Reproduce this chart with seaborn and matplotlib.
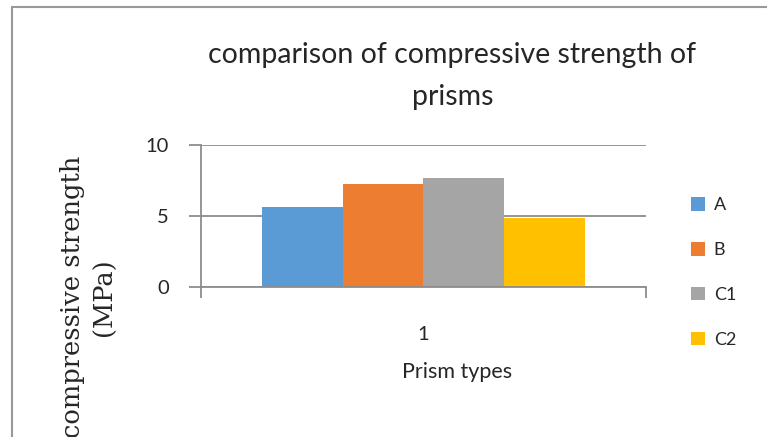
import matplotlib
matplotlib.use("Agg")
import matplotlib.pyplot as plt
from matplotlib.patches import Rectangle
from matplotlib.lines import Line2D
import seaborn as sns
import pandas as pd

# Data
prism_types = ["A", "B", "C1", "C2"]
strength_mpa = [5.6, 7.25, 7.7, 4.85]
group_labels = ["1"]
colors = ["#5B9BD5", "#ED7D31", "#A5A5A5", "#FFC000"]

df = pd.DataFrame({
    "group": group_labels * len(prism_types),
    "type": prism_types,
    "strength": strength_mpa,
})

sns.set_style("white")
sans = ["Lato", "DejaVu Sans"]
serif = ["DejaVu Serif"]

fig = plt.figure(figsize=(7.67, 4.37), dpi=100)
ax = fig.add_axes([0.262, 0.3432, 0.58, 0.325])

sns.barplot(data=df, x="group", y="strength", hue="type", palette=colors,
            width=0.725, gap=0, dodge=True, saturation=1, ax=ax,
            legend=False, edgecolor="none", linewidth=0, errorbar=None)

grid_c = "#8c8c8c"
txt_c = "#262626"
ax.set_xlim(-0.5, 0.5)
ax.set_ylim(0, 10)
ax.set_yticks([0, 5, 10])
ax.set_yticklabels(["0", "5", "10"], fontsize=14.5, family=sans, color=txt_c)
ax.yaxis.grid(True, color=grid_c, linewidth=1.3)
ax.set_axisbelow(True)
ax.tick_params(axis="y", length=9, width=1.3, color=grid_c, pad=14, direction="out")
ax.yaxis.set_ticks_position("left")

# x axis: boundary ticks as majors, category label as a minor tick
ax.set_xticks([-0.5, 0.5])
ax.set_xticklabels(["", ""])
ax.set_xticks([0], minor=True)
ax.set_xticklabels(group_labels, minor=True, fontsize=14.5, family=sans, color=txt_c)
ax.tick_params(axis="x", which="major", length=8, width=1.3, color=grid_c, direction="out")
ax.tick_params(axis="x", which="minor", length=0, pad=28)
ax.xaxis.set_ticks_position("bottom")

for s in ["top", "right"]:
    ax.spines[s].set_visible(False)
for s in ["left", "bottom"]:
    ax.spines[s].set_color(grid_c)
    ax.spines[s].set_linewidth(1.3)

ax.set_xlabel("Prism types", fontsize=15.5, family=sans, color=txt_c)
ax.xaxis.set_label_coords(0.575, -0.53)
ax.set_ylabel("")

fig.text(0.59, 0.826, "comparison of compressive strength of\nprisms", ha="center",
         va="center", fontsize=20.5, family=sans, color=txt_c, linespacing=1.75)

fig.text(0.115, 0.32, "compressive strength\n(MPa)", rotation=90, ha="center",
         va="center", fontsize=18.5, family=serif, color=txt_c, linespacing=1.35)

# Legend
handles = [Rectangle((0, 0), 1, 1, facecolor=c, edgecolor="none") for c in colors]
fig.legend(handles, prism_types, loc="center left", bbox_to_anchor=(0.88, 0.376),
           frameon=False, handlelength=0.75, handleheight=0.75,
           handletextpad=0.5, labelspacing=1.6, prop={"family": sans, "size": 13})

# Chart frame
fig.add_artist(Line2D([0.0157, 0.0157], [0.0, 0.984], color="#999999", linewidth=1.5,
                      transform=fig.transFigure))
fig.add_artist(Line2D([0.0157, 1.0], [0.984, 0.984], color="#999999", linewidth=1.5,
                      transform=fig.transFigure))

fig.savefig("out.png", dpi=100)
